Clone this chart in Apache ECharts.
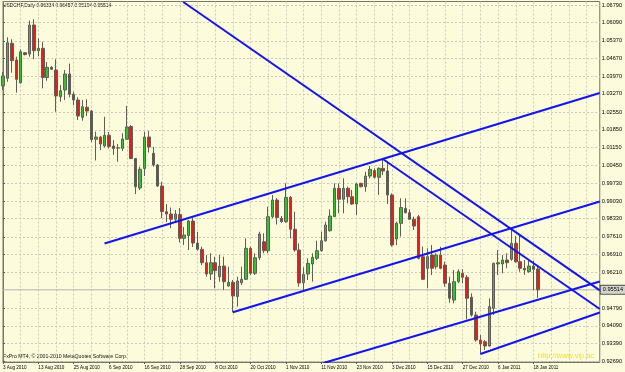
<!DOCTYPE html>
<html><head><meta charset="utf-8">
<script src="https://cdn.jsdelivr.net/npm/echarts@6/dist/echarts.min.js"></script>
<style>html,body{margin:0;padding:0;background:#fcfcdd;}#c{width:625px;height:372px;}</style>
</head><body><div id="c"></div>
<script>
const dates = ['3 Aug 2010','4 Aug 2010','5 Aug 2010','6 Aug 2010','9 Aug 2010','10 Aug 2010','11 Aug 2010','12 Aug 2010','13 Aug 2010','16 Aug 2010','17 Aug 2010','18 Aug 2010','19 Aug 2010','20 Aug 2010','23 Aug 2010','24 Aug 2010','25 Aug 2010','26 Aug 2010','27 Aug 2010','30 Aug 2010','31 Aug 2010',
'1 Sep 2010','2 Sep 2010','3 Sep 2010','6 Sep 2010','7 Sep 2010','8 Sep 2010','9 Sep 2010','10 Sep 2010','13 Sep 2010','14 Sep 2010','15 Sep 2010','16 Sep 2010','17 Sep 2010','20 Sep 2010','21 Sep 2010','22 Sep 2010','23 Sep 2010','24 Sep 2010','27 Sep 2010','28 Sep 2010','29 Sep 2010','30 Sep 2010',
'1 Oct 2010','4 Oct 2010','5 Oct 2010','6 Oct 2010','7 Oct 2010','8 Oct 2010','11 Oct 2010','12 Oct 2010','13 Oct 2010','14 Oct 2010','15 Oct 2010','18 Oct 2010','19 Oct 2010','20 Oct 2010','21 Oct 2010','22 Oct 2010','25 Oct 2010','26 Oct 2010','27 Oct 2010','28 Oct 2010','29 Oct 2010',
'1 Nov 2010','2 Nov 2010','3 Nov 2010','4 Nov 2010','5 Nov 2010','8 Nov 2010','9 Nov 2010','10 Nov 2010','11 Nov 2010','12 Nov 2010','15 Nov 2010','16 Nov 2010','17 Nov 2010','18 Nov 2010','19 Nov 2010','22 Nov 2010','23 Nov 2010','24 Nov 2010','25 Nov 2010','26 Nov 2010','29 Nov 2010','30 Nov 2010',
'1 Dec 2010','2 Dec 2010','3 Dec 2010','6 Dec 2010','7 Dec 2010','8 Dec 2010','9 Dec 2010','10 Dec 2010','13 Dec 2010','14 Dec 2010','15 Dec 2010','16 Dec 2010','17 Dec 2010','20 Dec 2010','21 Dec 2010','22 Dec 2010','23 Dec 2010','24 Dec 2010','27 Dec 2010','28 Dec 2010','29 Dec 2010','30 Dec 2010','31 Dec 2010',
'3 Jan 2011','4 Jan 2011','5 Jan 2011','6 Jan 2011','7 Jan 2011','10 Jan 2011','11 Jan 2011','12 Jan 2011','13 Jan 2011','14 Jan 2011','17 Jan 2011','18 Jan 2011','19 Jan 2011'];

const opens = [1.03584,1.03889,1.05275,1.04614,1.03715,1.04903,1.04852,1.06000,1.04982,1.05077,
1.03921,1.04325,1.04218,1.03161,1.03426,1.04060,1.03256,1.03030,1.02345,1.02741,
1.02594,1.01474,1.01565,1.01208,1.01632,1.01208,1.01129,1.01117,1.01474,1.01981,
1.00713,0.99545,1.00317,1.01565,1.00919,1.00456,0.99624,0.98607,0.98516,0.98306,
0.98496,0.97553,0.97664,0.98238,0.97367,0.97118,0.96587,0.96140,0.96587,0.96033,
0.96456,0.95664,0.95811,0.95249,0.95795,0.95930,0.97157,0.96167,0.96785,0.97419,
0.97062,0.98409,0.99070,0.98345,0.98211,0.99177,0.97910,0.97090,0.95795,0.96140,
0.96536,0.96761,0.97062,0.97458,0.97854,0.98409,0.99533,0.99098,0.99533,0.99201,
0.98912,0.99731,0.99597,1.00020,1.00238,0.99969,1.00325,1.00218,0.99268,0.97526,
0.98147,0.98741,0.98567,0.98306,0.98409,0.96825,0.96365,0.96892,0.96429,0.96892,
0.96496,0.95771,0.95110,0.95835,0.96167,0.96009,0.95217,0.94516,0.93526,0.93459,
0.93288,0.94781,0.96536,0.96536,0.96694,0.96722,0.97355,0.96627,0.96365,0.96231,
0.96456,0.96334];

const highs = [1.04139,1.05513,1.05434,1.04745,1.05038,1.04931,1.06178,1.06226,1.05473,1.05335,
1.04535,1.04376,1.04642,1.03624,1.04218,1.04475,1.03359,1.03137,1.03030,1.03058,
1.02634,1.01775,1.01604,1.02369,1.01763,1.01446,1.01288,1.01711,1.02792,1.02040,
1.00733,1.00389,1.01775,1.01802,1.01169,1.00496,0.99795,0.98912,0.98773,0.98674,
0.98753,0.98001,0.98278,0.98409,0.97803,0.97221,0.96892,0.96959,0.96825,0.96892,
0.96825,0.96429,0.95902,0.96033,0.96429,0.97553,0.97221,0.96959,0.97815,0.97751,
0.98805,0.99268,0.99149,0.98436,0.99731,0.99228,0.98607,0.97355,0.96405,0.96761,
0.96959,0.97458,0.97815,0.98211,0.98702,0.99731,0.99731,0.99929,0.99597,0.99466,
0.99755,0.99755,1.00191,1.00416,1.00325,1.00365,1.00682,1.00587,0.99335,0.98211,
0.99137,0.99137,0.98702,0.98409,0.98476,0.97221,0.97157,0.97288,0.96959,0.97221,
0.96627,0.96033,0.96298,0.96326,0.96326,0.96100,0.95375,0.94647,0.93724,0.93526,
0.95177,0.96587,0.97090,0.96892,0.96959,0.97882,0.97644,0.97684,0.96694,0.96666,
0.96666,0.96457];

const lows = [1.03426,1.03755,1.04111,1.03319,1.03683,1.04792,1.04745,1.04642,1.04761,1.03493,
1.03794,1.04218,1.02567,1.02963,1.03030,1.03137,1.02832,1.02238,1.02210,1.02396,
1.01367,1.00634,1.01050,1.01149,1.01109,1.00852,1.00587,1.01010,1.01446,1.00682,
0.99308,0.99466,1.00020,1.00951,1.00389,0.99585,0.98345,0.98199,0.97961,0.98211,
0.97387,0.97288,0.97090,0.97209,0.97070,0.96496,0.96033,0.95902,0.95573,0.95835,
0.95506,0.95637,0.94623,0.94845,0.95704,0.95902,0.96100,0.96100,0.96694,0.96959,
0.96959,0.98345,0.98100,0.98171,0.98171,0.97553,0.97023,0.95637,0.95506,0.95902,
0.95835,0.96694,0.97023,0.97419,0.97815,0.98400,0.98543,0.98543,0.98939,0.98872,
0.98476,0.99573,0.99399,0.99929,0.99929,0.99268,1.00060,0.98912,0.97221,0.97288,
0.97625,0.98543,0.98278,0.97882,0.96722,0.95902,0.95573,0.96100,0.96326,0.96326,
0.95637,0.95003,0.94979,0.95771,0.95771,0.94346,0.94449,0.93459,0.92972,0.93130,
0.93261,0.94516,0.96100,0.96167,0.96365,0.96666,0.96587,0.96231,0.96100,0.96191,
0.95506,0.95194];

const closes = [1.03980,1.05299,1.04586,1.03850,1.04943,1.04832,1.06000,1.04982,1.05077,1.03921,
1.04325,1.04246,1.03188,1.03398,1.04060,1.03256,1.03030,1.02396,1.02765,1.02594,
1.01466,1.01565,1.01288,1.01632,1.01189,1.01109,1.01129,1.01486,1.01961,1.00713,
0.99597,1.00286,1.01565,1.01169,1.00456,0.99624,0.98607,0.98516,0.98306,0.98516,
0.97553,0.97684,0.98238,0.97367,0.97118,0.96587,0.96140,0.96587,0.96270,0.96456,
0.95835,0.95811,0.95268,0.95862,0.95930,0.97157,0.96167,0.96785,0.97724,0.97062,
0.98409,0.99070,0.98377,0.98211,0.99177,0.97910,0.97090,0.95783,0.96128,0.96563,
0.96801,0.97062,0.97458,0.98080,0.98436,0.99533,0.99098,0.99533,0.99201,0.98912,
0.99704,0.99597,1.00020,1.00286,0.99969,1.00325,1.00218,0.99268,0.97288,0.98147,
0.98773,0.98567,0.98306,0.98040,0.96761,0.95930,0.96825,0.96365,0.96892,0.96365,
0.95771,0.95177,0.95835,0.96231,0.96009,0.95177,0.94516,0.93526,0.93368,0.93288,
0.94845,0.96563,0.96587,0.96694,0.96587,0.97355,0.96627,0.96365,0.96298,0.96456,
0.96326,0.95514];

const futureSlots = 14;
const yTickLabels = ['0.92690','0.93390','0.94090','0.94790','0.96210','0.96910','0.97610','0.98330','0.99030','0.99730','1.00450','1.01150','1.01850','1.02550','1.03270','1.03970','1.04670','1.05370','1.06090','1.06790'];
// trend lines: [barIndexStart, priceStart, barIndexEnd, priceEnd]
const trendLines = [
  [40.78, 1.06911, 135, 0.95494],
  [86, 1.00682, 135, 0.94754],
  [22.97, 0.97347, 135, 1.03307],
  [52, 0.94623, 135, 0.99011],
  [72.49, 0.92615, 135, 0.95843],
  [108, 0.92972, 135, 0.94615]
];
const Y_MIN = 0.92655, Y_MAX = 1.06931;

const categories = dates.concat(new Array(futureSlots).fill(''));
const lastIdx = dates.length - 1;
const lastSlot = categories.length - 1;
const ohlc = opens.map((o, i) => [o, closes[i], lows[i], highs[i]]);
const yTickValues = yTickLabels.map(Number);
const lastClose = closes[lastIdx];
const FONT = 'Liberation Sans';
const frame = '#76766a';
const gridLine = {color: '#cbcbb9', type: [2, 2], width: 1};

const chart = echarts.init(document.getElementById('c'), null, {renderer: 'canvas'});
chart.setOption({
  backgroundColor: '#fcfcdd',
  animation: false,
  grid: {left: 1.5, right: 21, top: 1.5, bottom: 10, show: true, borderColor: frame, borderWidth: 1},
  xAxis: [{
    type: 'category', data: categories, boundaryGap: false,
    axisLine: {show: true, lineStyle: {color: frame}},
    axisTick: {show: true, length: 2, interval: (i) => i % 8 === 0 && i <= lastIdx, lineStyle: {color: '#555'}},
    axisLabel: {interval: (i) => i % 8 === 0 && i <= lastIdx, align: 'left', fontSize: 4.6, fontFamily: FONT, color: '#000', margin: 3},
    splitLine: {show: true, interval: (i) => i % 4 === 0, lineStyle: gridLine}
  }, {
    type: 'value', min: 0, max: lastSlot, show: false
  }],
  yAxis: {
    type: 'value', position: 'right', min: Y_MIN, max: Y_MAX,
    axisLine: {show: true, lineStyle: {color: frame}},
    axisTick: {show: true, length: 2, customValues: yTickValues, lineStyle: {color: '#555'}},
    axisLabel: {customValues: yTickValues, formatter: (v) => v.toFixed(5), fontSize: 5.6, fontFamily: FONT, color: '#000', margin: 2},
    splitLine: {show: true, lineStyle: gridLine}
  },
  series: [{
    type: 'line', xAxisIndex: 1, data: [[0, lastClose], [lastSlot, lastClose]], symbol: 'none', silent: true, z: 1,
    lineStyle: {color: '#b4b4b4', width: 1},
    endLabel: {show: true, formatter: lastClose.toFixed(5), distance: 1, fontSize: 5.6, fontFamily: FONT, color: '#000',
      backgroundColor: '#d4d4cc', borderColor: '#505050', borderWidth: 1, padding: [1, 2]}
  }, {
    type: 'candlestick', data: ohlc, barWidth: 3, z: 3,
    itemStyle: {color: '#2ec22e', color0: '#e41c1c', borderColor: '#5f5f55', borderColor0: '#5f5f55', borderWidth: 1}
  }].concat(trendLines.map(t => ({
    type: 'line', xAxisIndex: 1, data: [[t[0], t[1]], [t[2], t[3]]], symbol: 'none', silent: true, z: 5,
    lineStyle: {color: '#1414ee', width: 2}
  }))),
  graphic: [
    {type: 'text', left: 3, top: 3, style: {text: 'USDCHF,Daily ' + [opens[lastIdx], highs[lastIdx], lows[lastIdx], closes[lastIdx]].map(v => v.toFixed(5)).join(' '), fill: '#111', font: '4.9px "Liberation Sans"'}},
    {type: 'text', left: 3, top: 354, style: {text: 'FxPro MT4, © 2001-2010 MetaQuotes Software Corp.', fill: '#111', font: '5.2px "Liberation Sans"'}},
    {type: 'text', left: 538, top: 352, style: {text: 'http://www.vip.ac', fill: '#f2e030', font: '7.5px "Liberation Sans"'}}
  ]
});
</script></body></html>
